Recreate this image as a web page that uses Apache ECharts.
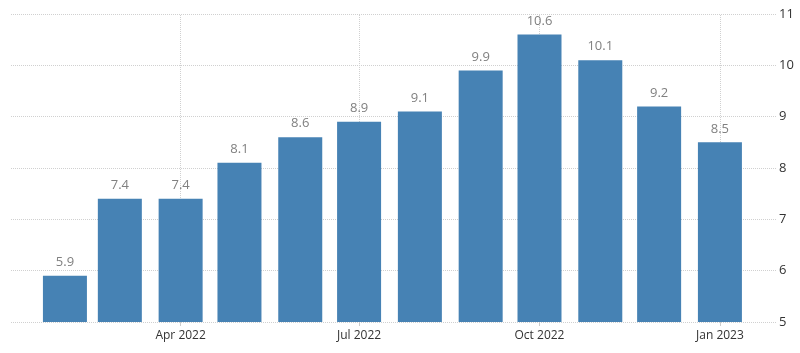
<!DOCTYPE html>
<html>
  <head>
    <meta charset="utf-8" />
    <script src="https://cdn.jsdelivr.net/npm/echarts/dist/echarts.min.js"></script>
  </head>
  <body style="margin:0">
    <div id="chart" style="width: 800px; height: 353px;"></div>
    <script>
        // Data
        var months = ['2022-02-01', '2022-03-01', '2022-04-01', '2022-05-01', '2022-06-01', '2022-07-01',
                      '2022-08-01', '2022-09-01', '2022-10-01', '2022-11-01', '2022-12-01', '2023-01-01'];
        var values = [5.9, 7.4, 7.4, 8.1, 8.6, 8.9, 9.1, 9.9, 10.6, 10.1, 9.2, 8.5];
        var tickMonths = ['2022-04-01', '2022-07-01', '2022-10-01', '2023-01-01'];
        var monthNames = ['Jan', 'Feb', 'Mar', 'Apr', 'May', 'Jun', 'Jul', 'Aug', 'Sep', 'Oct', 'Nov', 'Dec'];

        // x positions as days since 2022-01-01 (keeps the real month spacing)
        var base = Date.UTC(2022, 0, 1);
        var day = function (s) { return (new Date(s + 'T00:00:00Z').getTime() - base) / 86400000; };
        var tickValues = tickMonths.map(day);

        var chart = echarts.init(document.getElementById('chart'));

        var option = {
            animation: false,
            textStyle: { fontFamily: 'Open Sans, sans-serif' },
            grid: { left: 11, right: 24, top: 14, bottom: 31 },
            xAxis: {
                type: 'value',
                min: 3.5,
                max: 393.6,
                axisLine: { show: false },
                splitLine: { show: false },
                axisTick: {
                    show: true,
                    customValues: tickValues,
                    length: 4,
                    lineStyle: { color: '#cccccc' }
                },
                axisLabel: {
                    customValues: tickValues,
                    color: '#333',
                    fontSize: 12,
                    margin: 8,
                    formatter: function (v) {
                        var d = new Date(base + v * 86400000);
                        return monthNames[d.getUTCMonth()] + ' ' + d.getUTCFullYear();
                    }
                }
            },
            yAxis: {
                type: 'value',
                position: 'right',
                min: 5,
                max: 11,
                interval: 1,
                axisLine: { show: false },
                axisTick: { show: false },
                axisLabel: { color: '#333', fontSize: 13, margin: 3, align: 'left' },
                splitLine: { lineStyle: { color: '#d0d0d0', type: 'dotted' } }
            },
            series: [{
                type: 'bar',
                z: 3,
                barWidth: 44,
                data: months.map(function (m, i) { return [day(m), values[i]]; }),
                itemStyle: { color: '#4682b4' },
                label: {
                    show: true,
                    position: 'top',
                    distance: 7,
                    color: '#808080',
                    fontSize: 13,
                    formatter: function (p) { return p.value[1].toFixed(1); }
                },
                // vertical grid lines at the labelled months, kept behind the bars
                markLine: {
                    z: 1,
                    silent: true,
                    symbol: 'none',
                    label: { show: false },
                    lineStyle: { color: '#d0d0d0', type: 'dotted', width: 1 },
                    data: tickValues.map(function (v) { return { xAxis: v }; })
                }
            }]
        };

        chart.setOption(option);
    </script>
  </body>
</html>
